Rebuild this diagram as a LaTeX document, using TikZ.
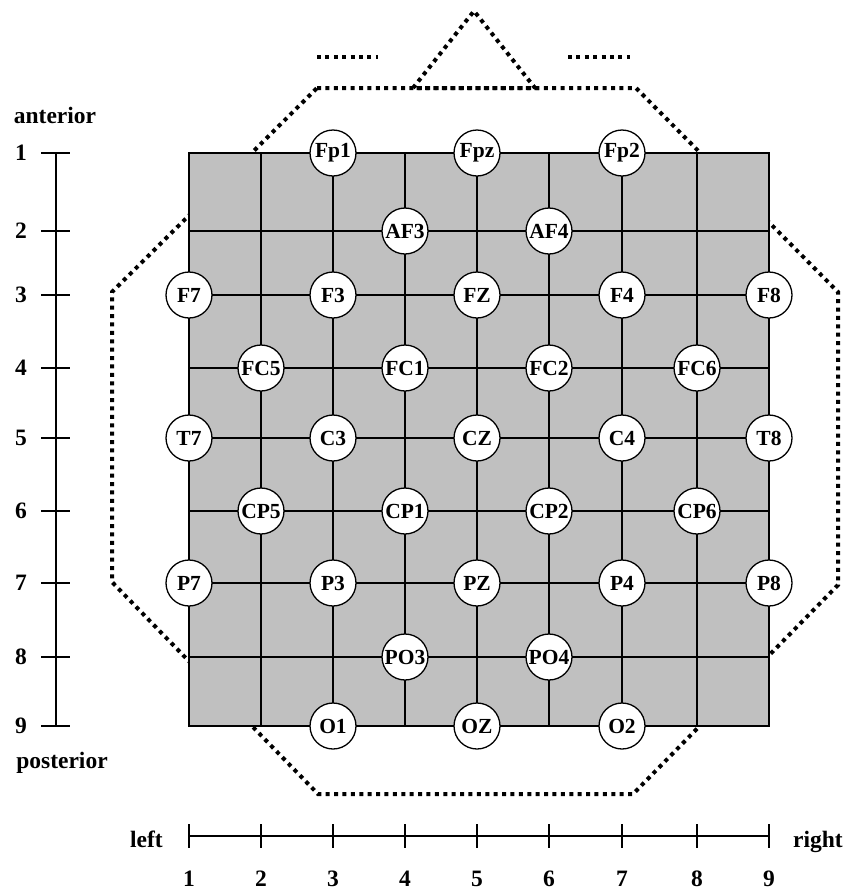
\documentclass[tikz,border=0pt]{standalone}
\usepackage{fontspec}
\setmainfont{Liberation Serif}
\usetikzlibrary{calc}
\definecolor{scalpgray}{RGB}{192,192,192}

\begin{document}
\begin{tikzpicture}[x=1pt,y=-1pt,
        electrode/.style={circle,draw,fill=white,line width=1.3pt,minimum size=46pt,inner sep=0pt,font=\fontsize{21.5}{21.5}\selectfont\bfseries},
        axislabel/.style={inner sep=0pt,font=\fontsize{23.5}{23.5}\selectfont\bfseries},
        axisline/.style={line width=2.8pt},
        gridline/.style={line width=1.5pt},
        dotline/.style={line width=4pt,dash pattern=on 4pt off 4.4pt}]
        \useasboundingbox (0,0) rectangle (848,892);

        \foreach \i/\x in {1/189,2/261,3/333,4/405,5/477,6/549,7/622,8/697,9/769}
            \coordinate (c\i) at (\x,0);
        \foreach \j/\y in {1/153,2/231,3/295,4/368,5/438,6/511,7/583,8/657,9/726}
            \coordinate (r\j) at (0,\y);

        \coordinate (H1) at (317,88);
        \coordinate (H2) at (636,88);
        \coordinate (H3) at (838,292);
        \coordinate (H4) at (838,585);
        \coordinate (H5) at (633,794);
        \coordinate (H6) at (318,794);
        \coordinate (H7) at (112,582);
        \coordinate (H8) at (112,292);
        \coordinate (NL) at (413,88);
        \coordinate (NT) at (474,11);
        \coordinate (NR) at (535,88);

        \draw[dotline] (H1) -- (H2) -- (H3) -- (H4) -- (H5) -- (H6) -- (H7) -- (H8) -- cycle;
        \draw[dotline] (NL) -- (NT) -- (NR) -- cycle;
        \draw[dotline] (317,57) -- (378,57);
        \draw[dotline] (568,57) -- (630,57);

        \filldraw[fill=scalpgray, line width=2pt] (c1 |- r1) rectangle (c9 |- r9);
        \foreach \i in {2,...,8}
            \draw[gridline] (c\i |- r1) -- (c\i |- r9);
        \foreach \j in {2,...,8}
            \draw[gridline] (c1 |- r\j) -- (c9 |- r\j);

        \foreach \name/\i/\j in {Fp1/3/1, Fpz/5/1, Fp2/7/1, AF3/4/2, AF4/6/2,
            F7/1/3, F3/3/3, FZ/5/3, F4/7/3, F8/9/3,
            FC5/2/4, FC1/4/4, FC2/6/4, FC6/8/4,
            T7/1/5, C3/3/5, CZ/5/5, C4/7/5, T8/9/5,
            CP5/2/6, CP1/4/6, CP2/6/6, CP6/8/6,
            P7/1/7, P3/3/7, PZ/5/7, P4/7/7, P8/9/7,
            PO3/4/8, PO4/6/8, O1/3/9, OZ/5/9, O2/7/9}
            \node[electrode] (\name) at (c\i |- r\j) {\name};

        \draw[axisline] ($(r1)+(56,0)$) -- ($(r9)+(56,0)$);
        \foreach \j in {1,...,9} {
            \draw[axisline] ($(r\j)+(41,0)$) -- ($(r\j)+(70,0)$);
            \node[axislabel] (row\j) at ($(r\j)+(21,0)$) {\j};
        }
        \draw[axisline] ($(c1)+(0,836)$) -- ($(c9)+(0,836)$);
        \foreach \i in {1,...,9} {
            \draw[axisline] ($(c\i)+(0,824)$) -- ($(c\i)+(0,848)$);
            \node[axislabel] (col\i) at ($(c\i)+(0,879)$) {\i};
        }

        \node[axislabel, anchor=base] (anterior) at (55,123) {anterior};
        \node[axislabel, anchor=base] (posterior) at (62,768) {posterior};
        \node[axislabel, anchor=base east] (left) at (163,847) {left};
        \node[axislabel, anchor=base west] (right) at (793,847) {right};

    \end{tikzpicture}
\end{document}
